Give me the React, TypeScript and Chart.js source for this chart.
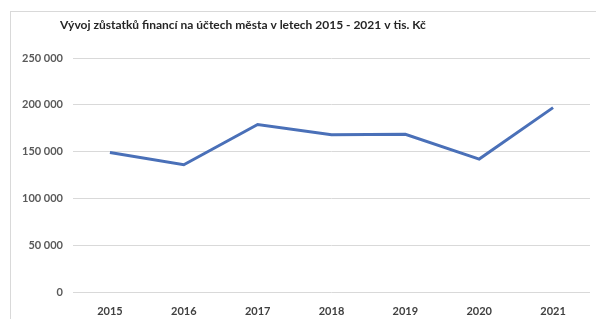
import React, { useEffect, useRef } from "react";
import { Chart, registerables } from "chart.js";

Chart.register(...registerables);

const categories = ["2015", "2016", "2017", "2018", "2019", "2020", "2021"];
const balances = [149000, 136000, 179000, 168000, 168500, 142000, 197000];
const yTicks = [0, 50000, 100000, 150000, 200000, 250000];
const titleText = "Vývoj zůstatků financí na účtech města v letech 2015 - 2021 v tis. Kč";

const fmt = (v: number) => String(v).replace(/\B(?=(\d{3})+(?!\d))/g, " ");

const titlePlugin = {
  id: "leftTitle",
  afterDraw(chart: any) {
    const c = chart.ctx;
    c.save();
    c.font = "bold 12px Lato";
    c.fillStyle = "#262626";
    c.textAlign = "left";
    c.textBaseline = "middle";
    c.fillText(titleText, chart.chartArea.left - 13, 25);
    c.restore();
  },
};

export default function App() {
  const ref = useRef<HTMLCanvasElement | null>(null);
  useEffect(() => {
    document.body.style.margin = "0";
    const ctx = ref.current!.getContext("2d")!;
    const chart = new Chart(ctx, {
      type: "line",
      data: {
        labels: categories,
        datasets: [
          {
            data: balances,
            borderColor: "#4a70b8",
            borderWidth: 3,
            pointRadius: 0,
            tension: 0,
          },
        ],
      },
      plugins: [titlePlugin],
      options: {
        animation: false,
        responsive: false,
        layout: { padding: { left: 10, top: 58, right: 6, bottom: 0 } },
        plugins: {
          legend: { display: false },
          tooltip: { enabled: false },
          title: { display: false },
        },
        scales: {
          x: {
            offset: true,
            afterFit: (s: any) => {
              s.height = 27;
            },
            grid: { display: false, drawTicks: false },
            border: { display: false },
            ticks: {
              color: "#404040",
              padding: 13,
              maxRotation: 0,
              font: { family: "Lato", size: 11, weight: "bold" },
            },
          },
          y: {
            min: 0,
            max: 250000,
            afterFit: (s: any) => {
              s.width = 63;
            },
            afterBuildTicks: (s: any) => {
              s.ticks = yTicks.map((v) => ({ value: v }));
            },
            grid: { color: "#d9d9d9", drawTicks: false, lineWidth: 1 },
            border: { display: false },
            ticks: {
              color: "#595959",
              padding: 10,
              font: { family: "Lato", size: 11, weight: "bold" },
              callback: (v: any) => fmt(Number(v)),
            },
          },
        },
      },
    });
    return () => chart.destroy();
  }, []);
  return (
    <div style={{ position: "relative", width: 596, height: 319, background: "#fff", overflow: "hidden" }}>
      <div
        style={{
          position: "absolute",
          left: 10,
          top: 11,
          width: 600,
          height: 320,
          border: "1px solid #d9d9d9",
          boxSizing: "border-box",
        }}
      />
      <canvas ref={ref} width={596} height={319} style={{ position: "absolute", left: 0, top: 0 }} />
    </div>
  );
}
